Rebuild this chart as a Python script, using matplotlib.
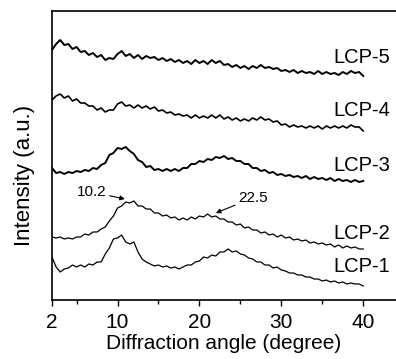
import numpy as np
import matplotlib
matplotlib.use("Agg")
import matplotlib.pyplot as plt

# intensity (a.u.), offset stacked, sampled every 0.5 degree from 2 to 40
lcp5 = [250, 256, 260, 255, 256, 251, 253, 248, 249, 245,
        247, 243, 245, 240, 242, 241, 246, 249, 244, 246,
        242, 245, 241, 244, 242, 243, 240, 242, 239, 241,
        238, 240, 237, 239, 236, 240, 237, 239, 236, 240,
        237, 239, 235, 236, 233, 235, 232, 234, 231, 234,
        232, 235, 232, 233, 231, 232, 229, 230, 228, 230,
        227, 229, 227, 228, 226, 229, 226, 228, 226, 227,
        225, 228, 226, 229, 227, 228, 224]
lcp4 = [200, 204, 206, 202, 204, 199, 201, 197, 197, 194,
        194, 190, 192, 188, 190, 190, 196, 198, 194, 195,
        192, 195, 192, 194, 191, 193, 189, 190, 187, 188,
        185, 186, 184, 185, 182, 185, 182, 184, 182, 185,
        182, 185, 181, 183, 180, 182, 179, 181, 179, 182,
        180, 183, 180, 181, 178, 179, 175, 176, 173, 175,
        173, 174, 172, 174, 172, 174, 171, 174, 172, 174,
        172, 174, 172, 175, 173, 173, 169]
lcp3 = [132, 127, 128, 126, 128, 127, 129, 128, 130, 129,
        132, 131, 135, 137, 145, 147, 152, 151, 153, 149,
        146, 140, 138, 133, 134, 130, 131, 129, 131, 129,
        131, 129, 132, 132, 136, 136, 139, 138, 141, 140,
        143, 142, 144, 141, 142, 139, 139, 136, 136, 132,
        132, 129, 130, 127, 128, 125, 126, 124, 125, 123,
        124, 122, 124, 121, 123, 121, 122, 120, 122, 119,
        121, 119, 120, 118, 120, 118, 119]
lcp2 = [63, 62, 63, 61, 62, 61, 63, 63, 66, 65,
        68, 68, 71, 73, 79, 84, 92, 94, 98, 97,
        99, 94, 94, 91, 91, 87, 87, 84, 85, 82,
        83, 80, 82, 80, 83, 81, 84, 83, 86, 83,
        84, 81, 81, 78, 78, 75, 76, 72, 73, 70,
        70, 67, 68, 65, 66, 63, 65, 62, 63, 60,
        61, 59, 60, 57, 58, 56, 57, 55, 56, 53,
        55, 52, 54, 52, 53, 51, 51]
lcp1 = [43, 33, 28, 31, 32, 35, 33, 35, 33, 36,
        35, 38, 38, 46, 52, 61, 62, 65, 58, 56,
        58, 48, 41, 38, 36, 34, 35, 33, 34, 32,
        33, 31, 33, 35, 35, 38, 39, 43, 42, 45,
        44, 48, 48, 51, 48, 49, 46, 45, 42, 41,
        38, 38, 35, 35, 32, 33, 30, 29, 27, 27,
        25, 25, 23, 23, 21, 21, 19, 20, 18, 19,
        17, 18, 16, 17, 16, 16, 14]

names = ["LCP-1", "LCP-2", "LCP-3", "LCP-4", "LCP-5"]
curves = [lcp1, lcp2, lcp3, lcp4, lcp5]
widths = [0.9, 0.9, 1.4, 1.2, 1.4]
label_y = [33, 67, 135, 190, 243]
xticks = [2, 10, 20, 30, 40]

fnt = "Liberation Sans"

fig = plt.figure(figsize=(3.96, 3.59), dpi=100)
ax = fig.add_axes([52/396, 59/359, 1 - 52/396, 289/359])

for name, y, w, ly in zip(names, curves, widths, label_y):
    x = np.linspace(2, 40, len(y))
    ax.plot(x, y, color="black", lw=w)
    ax.text(36.4, ly, name, family=fnt, fontsize=14.5, va="center", ha="left")

ax.annotate("10.2", xy=(10.9, 101), xytext=(8.7, 108), family=fnt,
            fontsize=11, ha="right", va="center",
            arrowprops=dict(arrowstyle="-|>", color="black", lw=0.8, mutation_scale=7,
                            shrinkA=0, shrinkB=0))
ax.annotate("22.5", xy=(22.0, 87), xytext=(24.7, 102), family=fnt,
            fontsize=11, ha="left", va="center",
            arrowprops=dict(arrowstyle="-|>", color="black", lw=0.8, mutation_scale=7,
                            shrinkA=0, shrinkB=0))

ax.set_xlim(2, 44)
ax.set_ylim(0, 289)
ax.set_xticks(xticks)
ax.set_xticks([5, 15, 25, 35], minor=True)
ax.set_yticks([])
ax.tick_params(axis="x", which="major", length=4, width=1, pad=5)
ax.tick_params(axis="x", which="minor", length=3, width=1)
for lab in ax.get_xticklabels():
    lab.set_family(fnt)
    lab.set_fontsize(15)
ax.spines["right"].set_visible(False)
for s in ["left", "top", "bottom"]:
    ax.spines[s].set_linewidth(1.2)

ax.set_xlabel("Diffraction angle (degree)", family=fnt, fontsize=15, labelpad=2)
ax.set_ylabel("Intensity (a.u.)", family=fnt, fontsize=16)
ax.yaxis.set_label_coords(-0.05, 0.43)

fig.savefig("out.png", dpi=100)
